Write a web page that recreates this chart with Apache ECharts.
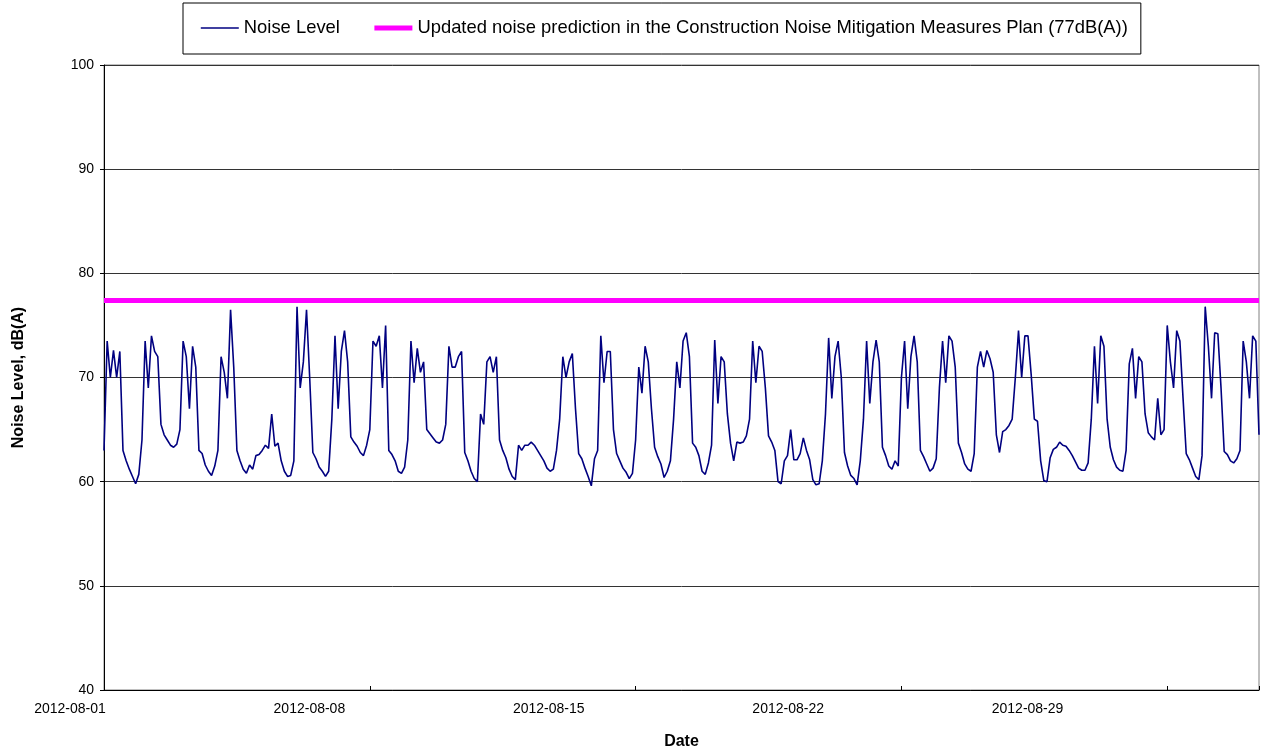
<!DOCTYPE html>
<html>
<head>
<meta charset="utf-8">
<title>Noise Level</title>
<script src="https://cdn.jsdelivr.net/npm/echarts@6/dist/echarts.min.js"></script>
<style>
  html, body { margin: 0; padding: 0; background: #fff; }
  #chart { width: 1261px; height: 751px; }
</style>
</head>
<body>
<div id="chart"></div>
<script>
// readings every 2 hours, counted from 2012-08-01 07:00
var stepHours = 2;
var noiseLevel = [
  63, 73.5, 70, 72.6, 70, 72.5, 63, 62, 61.2, 60.5, 59.8, 60.7,
  64, 73.5, 69, 74, 72.5, 72, 65.5, 64.5, 64, 63.5, 63.3, 63.6,
  65, 73.5, 72, 67, 73, 71, 63, 62.7, 61.6, 61, 60.6, 61.5,
  63, 72, 70.5, 68, 76.5, 71, 63, 62, 61.2, 60.8, 61.6, 61.2,
  62.5, 62.6, 63, 63.5, 63.2, 66.5, 63.4, 63.7, 62, 61, 60.5, 60.6,
  62, 76.8, 69, 71.5, 76.5, 70, 62.8, 62.2, 61.4, 61, 60.5, 61,
  66, 74, 67, 72.5, 74.5, 71.5, 64.3, 63.8, 63.4, 62.8, 62.5, 63.5,
  65, 73.5, 73, 74, 69, 75, 63, 62.6, 62, 61, 60.8, 61.4,
  64, 73.5, 69.5, 72.8, 70.5, 71.5, 65, 64.6, 64.2, 63.8, 63.7, 64,
  65.5, 73, 71, 71, 72, 72.5, 62.8, 62, 61, 60.3, 60, 66.5,
  65.5, 71.5, 72, 70.5, 72, 64, 63, 62.3, 61.2, 60.5, 60.2, 63.5,
  63, 63.5, 63.5, 63.8, 63.5, 63, 62.5, 62, 61.3, 61, 61.2, 63,
  66, 72, 70, 71.5, 72.3, 67, 62.7, 62.2, 61.3, 60.5, 59.6, 62.2,
  63, 74, 69.5, 72.5, 72.5, 65, 62.7, 62, 61.3, 60.9, 60.3, 60.8,
  64, 71, 68.5, 73, 71.5, 67, 63.3, 62.4, 61.7, 60.4, 61, 62,
  66, 71.5, 69, 73.5, 74.3, 72, 63.7, 63.3, 62.5, 61, 60.7, 61.8,
  63.5, 73.6, 67.5, 72, 71.5, 66.5, 63.7, 62, 63.8, 63.7, 63.8, 64.4,
  66, 73.5, 69.5, 73, 72.5, 69, 64.4, 63.8, 63, 60, 59.8, 62,
  62.5, 65, 62.1, 62.1, 62.7, 64.2, 63, 62.1, 60.2, 59.7, 59.8, 62,
  66.5, 73.8, 68, 72, 73.5, 70, 62.8, 61.5, 60.6, 60.3, 59.7, 62,
  66, 73.5, 67.5, 71.5, 73.6, 71.5, 63.3, 62.5, 61.5, 61.2, 62, 61.5,
  70, 73.5, 67, 72, 74, 71.5, 63, 62.4, 61.7, 61, 61.3, 62.2,
  69, 73.5, 69.5, 74, 73.5, 71, 63.7, 62.8, 61.7, 61.2, 61, 62.7,
  71, 72.5, 71, 72.6, 71.8, 70.5, 64.5, 62.8, 64.8, 65, 65.4, 66,
  70, 74.5, 70, 74, 74, 70.3, 66, 65.8, 62, 60.1, 60, 62.3,
  63.1, 63.3, 63.8, 63.5, 63.4, 63, 62.5, 61.9, 61.3, 61.1, 61.1, 61.8,
  66, 73, 67.5, 74, 73, 66, 63.3, 62.1, 61.4, 61.1, 61, 63,
  71.3, 72.8, 68, 72, 71.5, 66.5, 64.7, 64.3, 64, 68, 64.5, 65,
  75, 71.5, 69, 74.5, 73.5, 68, 62.7, 62.1, 61.3, 60.5, 60.2, 62.5,
  76.8, 73, 68, 74.3, 74.2, 69, 62.9, 62.6, 62, 61.8, 62.2, 63,
  73.5, 71.5, 68, 74, 73.5, 64.5
];
var predictionLevel = 77.4;
var dateLabels = ['2012-08-01', '2012-08-08', '2012-08-15', '2012-08-22', '2012-08-29'];
var noiseName = 'Noise Level';
var predictionName = 'Updated noise prediction in the Construction Noise Mitigation Measures Plan (77dB(A))';

var lastHour = (noiseLevel.length - 1) * stepHours;
var noiseData = noiseLevel.map(function (v, i) { return [i * stepHours, v]; });
var font = '"Liberation Sans", Arial, sans-serif';

var chart = echarts.init(document.getElementById('chart'));
var option = {
  animation: false,
  backgroundColor: '#fff',
  textStyle: { fontFamily: font, color: '#000' },
  legend: {
    left: 183,
    top: 3,
    padding: [16, 13, 17, 17],
    itemGap: 32,
    itemWidth: 38,
    itemHeight: 14,
    borderColor: '#000',
    borderWidth: 1,
    // hide the marker dot, keep only the line sample
    itemStyle: { opacity: 0 },
    textStyle: { fontFamily: font, fontSize: 18.4, color: '#000' },
    data: [
      { name: noiseName, lineStyle: { width: 1.6 } },
      { name: predictionName, lineStyle: { width: 5 } }
    ]
  },
  grid: [
    { left: 104, right: 2, top: 65, bottom: 61, outerBoundsMode: 'none', show: true, borderColor: '#808080', borderWidth: 1 },
    { left: 70, right: 18, top: 65, bottom: 61, outerBoundsMode: 'none' }
  ],
  xAxis: [
    {
      type: 'value',
      gridIndex: 0,
      min: 0,
      max: lastHour,
      interval: 168,
      name: 'Date',
      nameLocation: 'middle',
      nameGap: 44,
      nameTextStyle: { fontFamily: font, fontSize: 16, fontWeight: 'bold', color: '#000' },
      axisLine: { show: true, lineStyle: { color: '#000', width: 1 } },
      axisTick: { show: true, inside: true, length: 4, lineStyle: { color: '#000' } },
      axisLabel: { show: false },
      splitLine: { show: false }
    },
    {
      type: 'value',
      gridIndex: 1,
      min: 0,
      max: 4.9,
      interval: 1,
      axisLine: { show: false },
      axisTick: { show: false },
      splitLine: { show: false },
      axisLabel: {
        margin: 12,
        fontFamily: font,
        fontSize: 14,
        color: '#000',
        showMaxLabel: false,
        formatter: function (v) { return dateLabels[v] || ''; }
      }
    }
  ],
  yAxis: [
    {
      type: 'value',
      gridIndex: 0,
      min: 40,
      max: 100,
      interval: 10,
      name: 'Noise Level, dB(A)',
      nameLocation: 'middle',
      nameGap: 77,
      nameTextStyle: { fontFamily: font, fontSize: 16, fontWeight: 'bold', color: '#000' },
      axisLine: { show: true, lineStyle: { color: '#000', width: 1 } },
      axisTick: { show: true, length: 4, lineStyle: { color: '#000' } },
      axisLabel: { fontFamily: font, fontSize: 14, color: '#000', margin: 10 },
      splitLine: { show: true, lineStyle: { color: '#333', width: 1 } }
    },
    { type: 'value', gridIndex: 1, show: false, min: 40, max: 100 }
  ],
  series: [
    {
      name: noiseName,
      type: 'line',
      xAxisIndex: 0,
      yAxisIndex: 0,
      symbol: 'none',
      z: 3,
      lineStyle: { color: '#000080', width: 1.6 },
      itemStyle: { color: '#000080' },
      data: noiseData
    },
    {
      name: predictionName,
      type: 'line',
      xAxisIndex: 0,
      yAxisIndex: 0,
      symbol: 'none',
      z: 2,
      lineStyle: { color: '#ff00ff', width: 5 },
      itemStyle: { color: '#ff00ff' },
      data: [[0, predictionLevel], [lastHour, predictionLevel]]
    }
  ]
};
chart.setOption(option);
</script>
</body>
</html>
